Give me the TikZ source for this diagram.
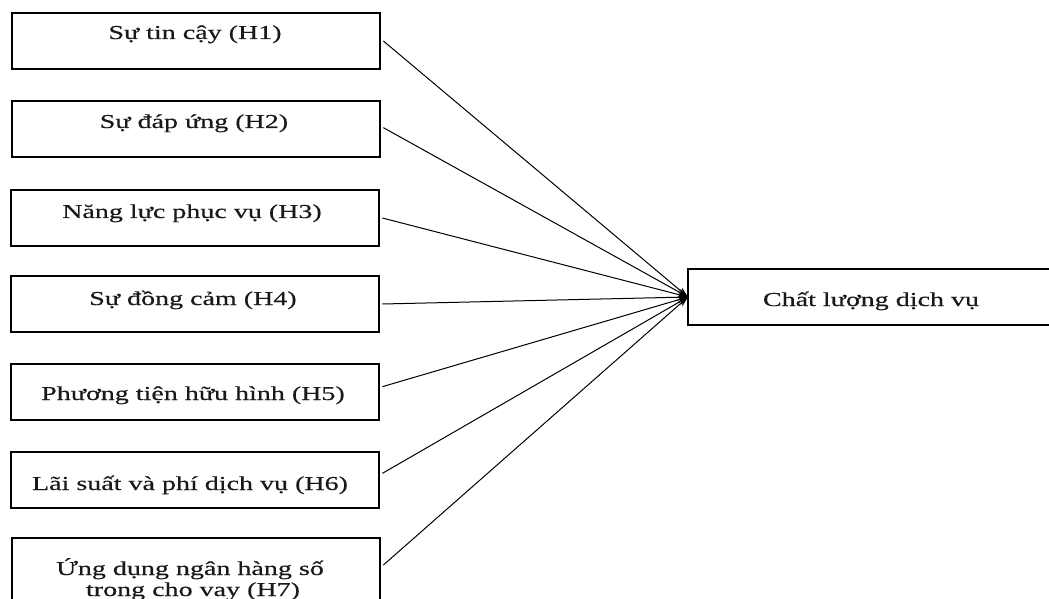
\documentclass[tikz,border=0pt]{standalone}
\usepackage{fontspec}
\setmainfont{Liberation Serif}[FakeStretch=1.42,FakeBold=0.4]
\usetikzlibrary{arrows.meta}
\begin{document}
\begin{tikzpicture}[x=0.75pt,y=-0.75pt,
  box/.style={draw=black,line width=1.1pt,minimum width=368*0.75pt,minimum height=56*0.75pt,inner sep=0pt,fill=white},
  lbl/.style={anchor=base,inner sep=0pt,font=\fontsize{14.8pt}{17pt}\selectfont,text=black!90,align=center},
  link/.style={line width=0.75pt,-{Stealth[length=8pt,width=5pt]}}]
\useasboundingbox (0,0) rectangle (1049,599);
\clip (0,0) rectangle (1049,599);
\fill[white] (0,0) rectangle (1049,599);
% left-hand factor boxes
\node[box] (b1) at (196,41) {};
\node[box] (b2) at (196,129) {};
\node[box] (b3) at (195,218) {};
\node[box] (b4) at (195,304) {};
\node[box] (b5) at (195,392) {};
\node[box] (b6) at (195,480) {};
\node[box,minimum height=76*0.75pt] (b7) at (196,576) {};
% outcome box, running off the right edge
\node[box,minimum width=400*0.75pt] (q) at (888,297) {};
% box captions
\node[lbl] (t1) at (195,39) {Sự tin cậy (H1)};
\node[lbl] (t2) at (194,128) {Sự đáp ứng (H2)};
\node[lbl] (t3) at (192,218) {Năng lực phục vụ (H3)};
\node[lbl] (t4) at (193,305) {Sự đồng cảm (H4)};
\node[lbl] (t5) at (193,400) {Phương tiện hữu hình (H5)};
\node[lbl] (t6) at (190,490) {Lãi suất và phí dịch vụ (H6)};
\node[lbl] (t7a) at (190,575) {Ứng dụng ngân hàng số};
\node[lbl] (t7b) at (193,596) {trong cho vay (H7)};
\node[lbl] (tq) at (871,306) {Chất lượng dịch vụ};
% hypothesised paths
\coordinate (tip) at (688,297);
\draw[link] ([xshift=2pt]b1.east) -- (tip);
\draw[link] ([xshift=2pt,yshift=1pt]b2.east) -- (tip);
\draw[link] ([xshift=2pt]b3.east) -- (tip);
\draw[link] ([xshift=2pt]b4.east) -- (tip);
\draw[link] ([xshift=2pt,yshift=4pt]b5.east) -- (tip);
\draw[link] ([xshift=2pt,yshift=5pt]b6.east) -- (tip);
\draw[link] ([xshift=2pt]b7.east |- 0,565) -- (tip);
\end{tikzpicture}
\end{document}
